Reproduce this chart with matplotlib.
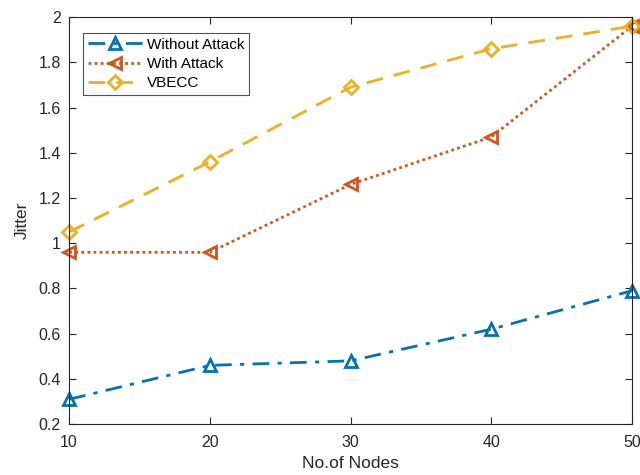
import matplotlib
matplotlib.use('Agg')
from matplotlib import pyplot as plt

plt.rcParams['font.family'] = ['Liberation Sans', 'DejaVu Sans']

nodes = [10, 20, 30, 40, 50]
without_attack = [0.31, 0.46, 0.48, 0.62, 0.79]
with_attack = [0.96, 0.96, 1.26, 1.47, 1.96]
vbecc = [1.05, 1.36, 1.69, 1.86, 1.96]

fig = plt.figure(figsize=(6.4, 4.75), dpi=100)
ax = fig.add_axes([0.108, 0.107, 0.8795, 0.857])

ax.plot(nodes, without_attack, marker='^', color='#0072BD', lw=2,
        dashes=(6, 3, 1.5, 3), ms=9, mew=2, mfc='none', label='Without Attack', clip_on=False)
ax.plot(nodes, with_attack, marker='<', color='#D95319', lw=2,
        dashes=(1, 1.2), ms=9, mew=2, mfc='none', label='With Attack', clip_on=False)
ax.plot(nodes, vbecc, marker='D', color='#EDB120', lw=2,
        dashes=(6, 4), ms=7, mew=2, mfc='none', label='VBECC', clip_on=False)

ax.set_xlim(10, 50)
ax.set_ylim(0.2, 2)
ax.set_xticks(nodes)
ax.set_yticks([0.2, 0.4, 0.6, 0.8, 1, 1.2, 1.4, 1.6, 1.8, 2])
ax.set_yticklabels(['0.2', '0.4', '0.6', '0.8', '1', '1.2', '1.4', '1.6', '1.8', '2'])
ax.tick_params(direction='in', labelsize=11.5, colors='#262626', top=True, right=True, length=5)
ax.tick_params(axis='x', pad=8)
ax.tick_params(axis='y', pad=6)
for s in ax.spines.values():
    s.set_color('#262626')
    s.set_linewidth(0.8)
ax.set_xlabel('No.of Nodes', fontsize=12.5, color='#262626', labelpad=4)
ax.set_ylabel('Jitter', fontsize=12.5, color='#262626', labelpad=6)

leg = ax.legend(loc='upper left', bbox_to_anchor=(0.025, 0.961), borderaxespad=0,
                fontsize=11, fancybox=False, edgecolor='#262626', handlelength=3.6,
                borderpad=0.3, labelspacing=0.35, handletextpad=0.3)
leg.get_frame().set_linewidth(0.8)

fig.savefig('out.png', dpi=100)
